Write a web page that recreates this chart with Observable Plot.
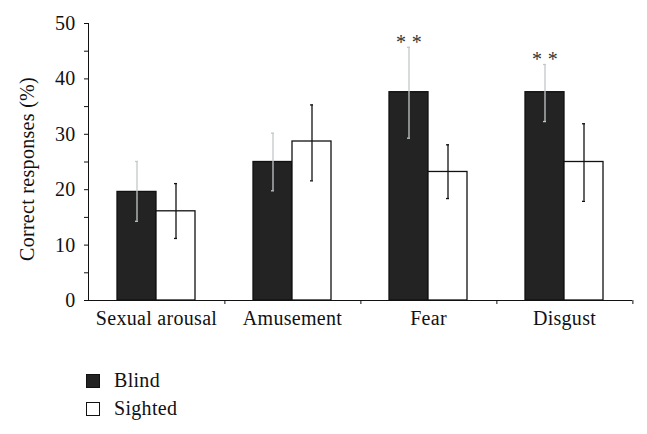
<!DOCTYPE html>
<html><head><meta charset="utf-8">
<script src="https://cdn.jsdelivr.net/npm/d3@7"></script>
<script src="https://cdn.jsdelivr.net/npm/@observablehq/plot@0.6"></script>
<style>
body{margin:0;background:#fff;font-family:"Liberation Serif","DejaVu Serif",serif;}
#wrap{position:relative;width:647px;height:434px;}
.leg{position:absolute;left:86px;display:flex;align-items:center;font-size:20px;color:#111;letter-spacing:0.3px;}
.sw{width:12px;height:12px;border:1.2px solid #111;margin-right:14px;}
</style></head>
<body><div id="wrap"></div>
<script>
const categories = ["Sexual arousal", "Amusement", "Fear", "Disgust"];
const groups = ["Blind", "Sighted"];
const blindMean = [19.6, 25.0, 37.6, 37.6];
const blindLow  = [14.3, 19.8, 29.3, 32.3];
const blindHigh = [25.1, 30.2, 45.7, 42.6];
const sightedMean = [16.1, 28.7, 23.2, 25.0];
const sightedLow  = [11.2, 21.6, 18.4, 17.9];
const sightedHigh = [21.1, 35.3, 28.1, 31.9];
const significance = ["", "", "* *", "* *"];
const yTicks = [0, 5, 10, 15, 20, 25, 30, 35, 40, 45, 50];

const rows = [];
categories.forEach((c, i) => {
  rows.push({cat: c, group: "Blind", mean: blindMean[i], lo: blindLow[i], hi: blindHigh[i], sig: significance[i]});
  rows.push({cat: c, group: "Sighted", mean: sightedMean[i], lo: sightedLow[i], hi: sightedHigh[i], sig: ""});
});

const W = 647, ML = 86, MR = 14;
const bandW = (W - ML - MR) / categories.length;
const font = "Liberation Serif, DejaVu Serif, serif";
const errColor = d => d.group === "Blind" ? "#c4c8c8" : "#111";

const chart = Plot.plot({
  width: W, height: 340,
  marginLeft: ML, marginRight: MR, marginTop: 23, marginBottom: 40,
  style: {fontFamily: font, fontSize: "20px", color: "#111", background: "#fff", letterSpacing: "0.3px"},
  fx: {domain: categories, padding: 0, axis: null},
  x: {domain: groups, paddingInner: 0, paddingOuter: 0.734, axis: null},
  y: {domain: [0, 50], ticks: yTicks, tickSize: 4, tickPadding: 9, line: true, label: null,
      tickFormat: d => d % 10 === 0 ? d : ""},
  color: {domain: groups, range: ["#232323", "#ffffff"]},
  marks: [
    Plot.barY(rows, {fx: "cat", x: "group", y: "mean", fill: "group", stroke: "#111", strokeWidth: 1.3}),
    Plot.ruleX(rows, {fx: "cat", x: "group", y1: "lo", y2: "hi", stroke: errColor, strokeWidth: 1.3}),
    Plot.tickY(rows, {fx: "cat", x: "group", y: "lo", stroke: errColor, strokeWidth: 1.3, insetLeft: 18, insetRight: 18}),
    Plot.tickY(rows, {fx: "cat", x: "group", y: "hi", stroke: errColor, strokeWidth: 1.3, insetLeft: 18, insetRight: 18}),
    Plot.text(rows.filter(d => d.sig), {fx: "cat", x: "group", y: "hi", text: "sig", dy: 2, lineAnchor: "bottom", fontSize: 20, fill: "#333"}),
    Plot.ruleY([0], {stroke: "#111", strokeWidth: 1.2}),
    Plot.axisFx({domain: categories, anchor: "bottom", label: null, tickSize: 0, tickPadding: 10}),
    Plot.axisFx({domain: categories, anchor: "bottom", label: null, tickSize: 4, dx: bandW / 2, tickFormat: () => "", stroke: "#111"})
  ]
});
const wrap = document.getElementById("wrap");
wrap.appendChild(chart);
const label = document.createElement("div");
label.textContent = "Correct responses (%)";
label.style.cssText = "position:absolute;left:27px;top:169px;transform:translate(-50%,-50%) rotate(-90deg);font-size:20px;letter-spacing:0.3px;white-space:nowrap;color:#111;";
wrap.appendChild(label);
[["Blind", "#232323", 369], ["Sighted", "#ffffff", 397]].forEach(([t, c, top]) => {
  const d = document.createElement("div");
  d.className = "leg";
  d.style.top = top + "px";
  d.innerHTML = `<span class="sw" style="background:${c}"></span><span>${t}</span>`;
  wrap.appendChild(d);
});
</script></body></html>
